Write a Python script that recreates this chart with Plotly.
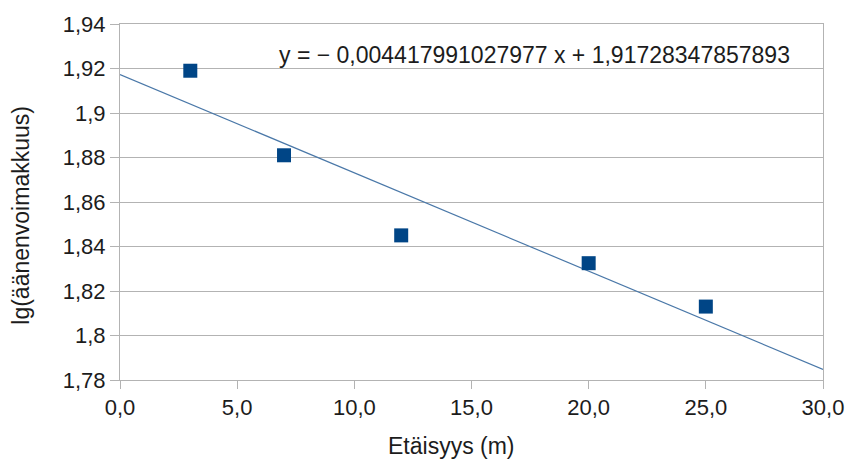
import numpy as np
import plotly.graph_objects as go

# Data
distance_m = [3, 7, 12, 20, 25]
lg_loudness = [1.919, 1.881, 1.845, 1.8325, 1.813]

trend_slope = -0.004417991027977
trend_intercept = 1.91728347857893
trend_x = [0, 30]
equation_text = "y = − 0,004417991027977 x + 1,91728347857893"

x_ticks = [0, 5, 10, 15, 20, 25, 30]
y_ticks = [1.78, 1.80, 1.82, 1.84, 1.86, 1.88, 1.90, 1.92, 1.94]

trend_y = [trend_slope * x + trend_intercept for x in trend_x]

FONT = "Liberation Sans, Arial, sans-serif"
GRID = "#b3b3b3"
TXT = "#1c1c1c"
TICK_SIZE = 22
TEXT_SIZE = 23

fig = go.Figure()
fig.add_trace(go.Scatter(
    x=trend_x, y=trend_y, mode="lines",
    line=dict(color="#4a78a8", width=1.2),
    showlegend=False, hoverinfo="skip",
))
fig.add_trace(go.Scatter(
    x=distance_m, y=lg_loudness, mode="markers",
    marker=dict(symbol="square", size=14, color="#004586",
                line=dict(width=0)),
    showlegend=False,
))

fig.update_layout(
    width=858, height=461,
    margin=dict(l=120, r=35, t=20, b=81),
    paper_bgcolor="white", plot_bgcolor="white",
    separators=", ",
    font=dict(family=FONT, size=TICK_SIZE, color=TXT),
    xaxis=dict(
        range=[0, 30], tickvals=x_ticks, tickformat=".1f",
        showgrid=False, zeroline=False,
        showline=True, mirror=True, linecolor=GRID, linewidth=1,
        ticks="outside", ticklen=8, tickcolor=GRID, tickwidth=1,
        tickfont=dict(family=FONT, size=TICK_SIZE, color=TXT),
    ),
    yaxis=dict(
        range=[1.78, 1.94], tickvals=y_ticks, tickformat=".2~f",
        showgrid=True, gridcolor=GRID, gridwidth=1, zeroline=False,
        showline=True, mirror=True, linecolor=GRID, linewidth=1,
        ticks="outside", ticklen=9, tickcolor=GRID, tickwidth=1,
        tickfont=dict(family=FONT, size=TICK_SIZE, color=TXT),
    ),
    annotations=[
        dict(text=equation_text, xref="paper", yref="paper",
             x=0.589, y=0.914, xanchor="center", yanchor="middle",
             showarrow=False, font=dict(family=FONT, size=TEXT_SIZE, color=TXT)),
        dict(text="Etäisyys (m)", xref="paper", yref="paper",
             x=0.472, y=-0.185, xanchor="center", yanchor="middle",
             showarrow=False, font=dict(family=FONT, size=TEXT_SIZE, color=TXT)),
        dict(text="lg(äänenvoimakkuus)", xref="paper", yref="paper",
             x=-0.141, y=0.464, xanchor="center", yanchor="middle",
             textangle=-90,
             showarrow=False, font=dict(family=FONT, size=TEXT_SIZE, color=TXT)),
    ],
)

fig.write_html("out.html")
